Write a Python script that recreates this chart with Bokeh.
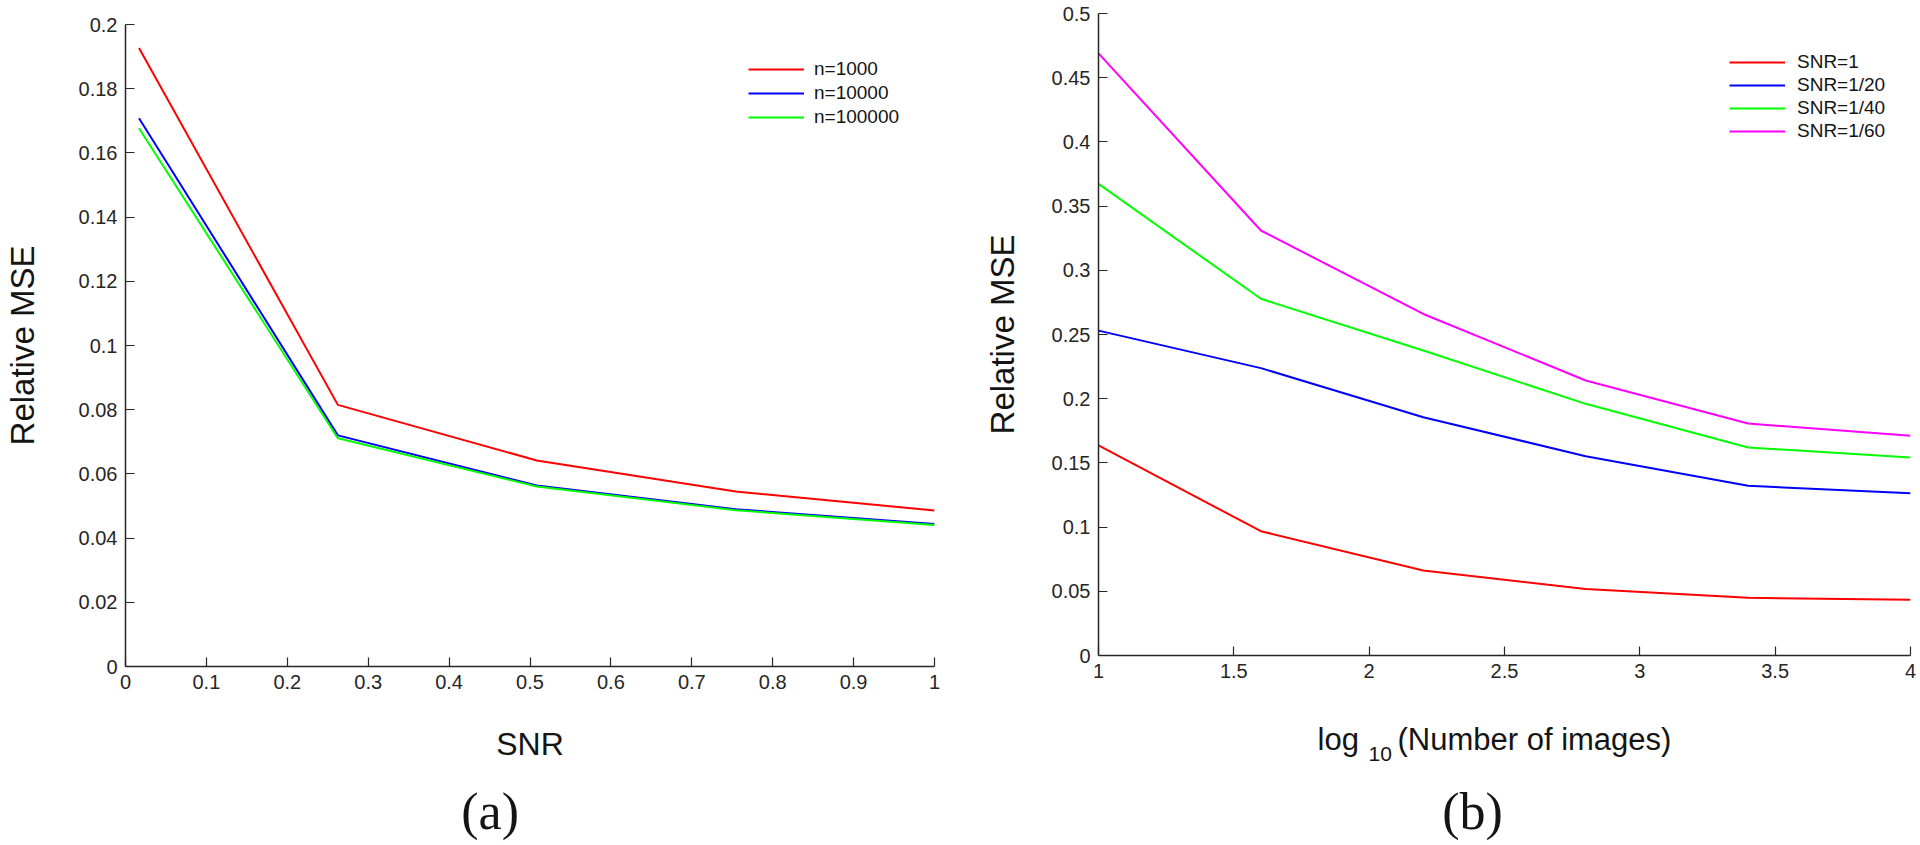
from bokeh.plotting import figure
from bokeh.models import FixedTicker, Legend, LegendItem, Range1d
from bokeh.layouts import row, column
from bokeh.core.properties import value
from bokeh.embed import file_html
from bokeh.resources import INLINE

# ---------------- data: panel (a) ----------------
snr = [0.0167, 0.2625, 0.5083, 0.7542, 1.0]
mse_n1000 = [0.1927, 0.0815, 0.0642, 0.0545, 0.0486]
mse_n10000 = [0.1708, 0.0720, 0.0564, 0.0490, 0.0444]
mse_n100000 = [0.1677, 0.0711, 0.0561, 0.0487, 0.0441]
names_a = ["n=1000", "n=10000", "n=100000"]
a_xticks = [0, 0.1, 0.2, 0.3, 0.4, 0.5, 0.6, 0.7, 0.8, 0.9, 1.0]
a_xlabels = ["0", "0.1", "0.2", "0.3", "0.4", "0.5", "0.6", "0.7", "0.8", "0.9", "1"]
a_yticks = [0, 0.02, 0.04, 0.06, 0.08, 0.1, 0.12, 0.14, 0.16, 0.18, 0.2]
a_ylabels = ["0", "0.02", "0.04", "0.06", "0.08", "0.1", "0.12", "0.14", "0.16", "0.18", "0.2"]

# ---------------- data: panel (b) ----------------
log_n = [1.0, 1.6, 2.2, 2.8, 3.4, 4.0]
mse_snr1 = [0.1636, 0.0968, 0.0662, 0.0517, 0.0449, 0.0434]
mse_snr20 = [0.2530, 0.2238, 0.1856, 0.1552, 0.1322, 0.1264]
mse_snr40 = [0.3674, 0.2778, 0.2375, 0.1960, 0.1620, 0.1542]
mse_snr60 = [0.4690, 0.3310, 0.2660, 0.2142, 0.1807, 0.1711]
names_b = ["SNR=1", "SNR=1/20", "SNR=1/40", "SNR=1/60"]
b_xticks = [1, 1.5, 2, 2.5, 3, 3.5, 4]
b_xlabels = ["1", "1.5", "2", "2.5", "3", "3.5", "4"]
b_yticks = [0, 0.05, 0.1, 0.15, 0.2, 0.25, 0.3, 0.35, 0.4, 0.45, 0.5]
b_ylabels = ["0", "0.05", "0.1", "0.15", "0.2", "0.25", "0.3", "0.35", "0.4", "0.45", "0.5"]

FONT = "Liberation Sans"
SERIF = "Liberation Serif"
AX = "#262626"
TXT = "#141414"


def style_axes(p, xt, xl, yt, yl):
    p.xaxis.ticker = FixedTicker(ticks=xt)
    p.yaxis.ticker = FixedTicker(ticks=yt)
    p.xaxis.major_label_overrides = {t: l for t, l in zip(xt, xl)}
    p.yaxis.major_label_overrides = {t: l for t, l in zip(yt, yl)}
    for ax in (p.xaxis[0], p.yaxis[0]):
        ax.axis_line_color = AX
        ax.axis_line_width = 1.5
        ax.major_tick_line_color = AX
        ax.major_tick_line_width = 1.2
        ax.major_tick_in = 9
        ax.major_tick_out = 0
        ax.minor_tick_line_color = None
        ax.major_label_text_font = FONT
        ax.major_label_text_font_size = "20px"
        ax.major_label_text_color = AX
        ax.major_label_standoff = 8
        ax.axis_label_text_font = FONT
        ax.axis_label_text_font_style = "normal"
        ax.axis_label_text_color = TXT
    p.xgrid.grid_line_color = None
    p.ygrid.grid_line_color = None
    p.outline_line_color = None


def caption_fig(w, h, bl, br, y_top, y_bottom):
    # frame spans page x from bl to (w - br) of this column; ranges in page px
    c = figure(width=w, height=h, output_backend="svg", toolbar_location=None,
               x_range=Range1d(0, 1), y_range=Range1d(y_bottom, y_top),
               x_axis_location=None, y_axis_location=None,
               min_border_left=bl, min_border_right=br, min_border_top=0,
               min_border_bottom=0)
    c.xgrid.grid_line_color = None
    c.ygrid.grid_line_color = None
    c.outline_line_color = None
    return c


# ---------------- panel (a) ----------------
p1 = figure(width=978, height=770, output_backend="svg", toolbar_location=None,
            x_range=Range1d(0, 1), y_range=Range1d(0, 0.2),
            min_border_left=122, min_border_top=24, min_border_right=44,
            min_border_bottom=104)
style_axes(p1, a_xticks, a_xlabels, a_yticks, a_ylabels)
p1.xaxis.axis_label = "SNR"
p1.xaxis.axis_label_text_font_size = "32px"
p1.xaxis.axis_label_standoff = 34
p1.yaxis.axis_label = "Relative MSE"
p1.yaxis.axis_label_text_font_size = "33px"
p1.yaxis.axis_label_standoff = 35

items_a = []
for name, ys, col in zip(names_a, [mse_n1000, mse_n10000, mse_n100000],
                         ["#ff0000", "#0000ff", "#00ff00"]):
    r = p1.line(snr, ys, line_color=col, line_width=2)
    items_a.append(LegendItem(label=name, renderers=[r]))

leg_a = Legend(items=items_a, location=(623, 538), padding=0, margin=0,
               spacing=2, glyph_width=56, glyph_height=20, label_height=20,
               label_standoff=10, border_line_color=None, background_fill_alpha=0,
               label_text_font=FONT, label_text_font_size="19px",
               label_text_color=TXT)
p1.add_layout(leg_a)

# caption (a) below panel (a); its frame is aligned with p1's frame (page x 122..934)
c1 = caption_fig(978, 75, 122, 44, 770, 845)
c1.x_range.start, c1.x_range.end = 122, 934
c1.text(x=[488], y=[811], text=["(a)"], text_font=value(SERIF),
        text_font_size="52px", text_align="center", text_baseline="middle",
        text_color=TXT)

# ---------------- panel (b) ----------------
p2 = figure(width=942, height=700, output_backend="svg", toolbar_location=None,
            x_range=Range1d(1, 4), y_range=Range1d(0, 0.5),
            min_border_left=120, min_border_top=13, min_border_right=10,
            min_border_bottom=45)
style_axes(p2, b_xticks, b_xlabels, b_yticks, b_ylabels)
p2.yaxis.axis_label = "Relative MSE"
p2.yaxis.axis_label_text_font_size = "33px"
p2.yaxis.axis_label_standoff = 28

items_b = []
for name, ys, col in zip(names_b, [mse_snr1, mse_snr20, mse_snr40, mse_snr60],
                         ["#ff0000", "#0000ff", "#00ff00", "#ff00ff"]):
    r = p2.line(log_n, ys, line_color=col, line_width=2)
    items_b.append(LegendItem(label=name, renderers=[r]))

leg_b = Legend(items=items_b, location=(631, 513), padding=0, margin=0,
               spacing=1, glyph_width=56, glyph_height=20, label_height=20,
               label_standoff=12, border_line_color=None, background_fill_alpha=0,
               label_text_font=FONT, label_text_font_size="19px",
               label_text_color=TXT)
p2.add_layout(leg_b)

# x-axis title with subscript, and caption (b); frame aligned with p2 (page x 1098..1910)
c2 = caption_fig(942, 145, 120, 10, 700, 845)
c2.x_range.start, c2.x_range.end = 1098, 1910
c2.text(x=[1317, 1397], y=[739, 739], text=["log", "(Number of images)"],
        text_font=value(FONT), text_font_size="31px", text_align="left",
        text_baseline="alphabetic", text_color=TXT)
c2.text(x=[1368], y=[753], text=["10"], text_font=value(FONT),
        text_font_size="21px", text_align="left", text_baseline="alphabetic",
        text_color=TXT)
c2.text(x=[1472], y=[811], text=["(b)"], text_font=value(SERIF),
        text_font_size="52px", text_align="center", text_baseline="middle",
        text_color=TXT)

layout = row(column(p1, c1), column(p2, c2))
open("out.html", "w").write(file_html(layout, INLINE))
